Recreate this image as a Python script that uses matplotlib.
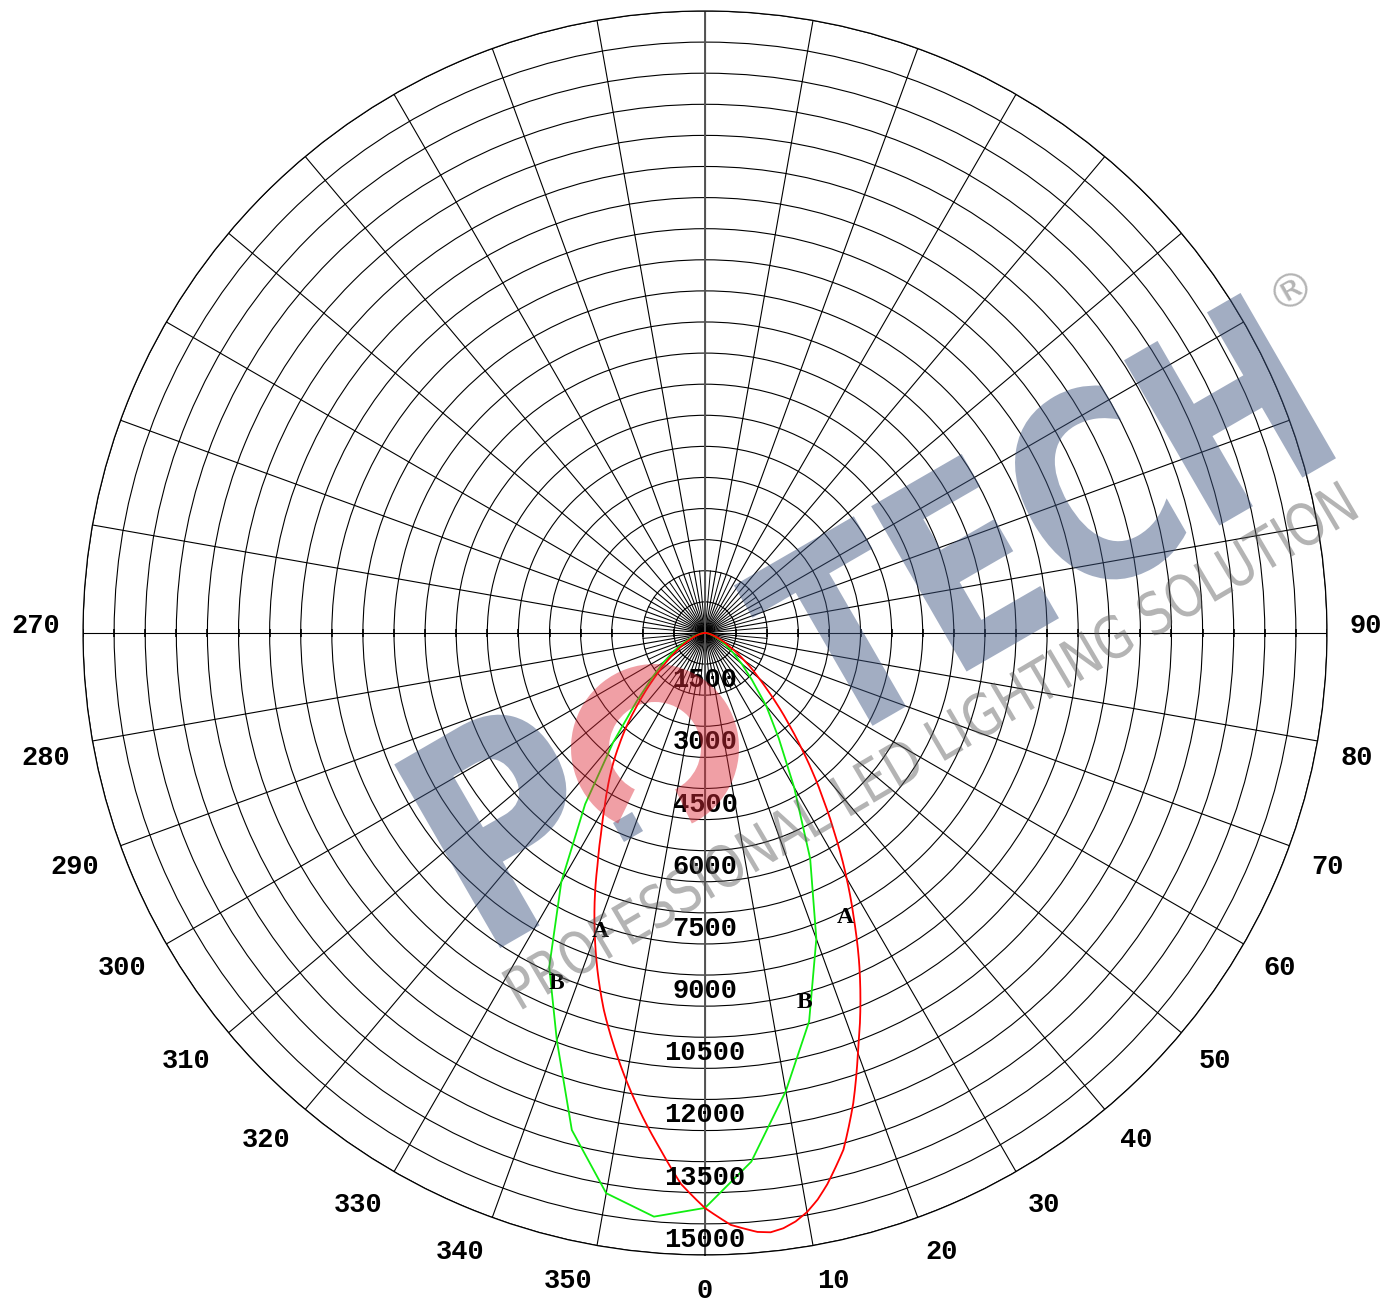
import numpy as np
import matplotlib
matplotlib.use("Agg")
import matplotlib.pyplot as plt
from matplotlib.font_manager import FontProperties
from matplotlib.textpath import TextPath
from matplotlib.patches import PathPatch, Wedge, Rectangle
from matplotlib.transforms import Affine2D, IdentityTransform

W, H, DPI = 1384, 1302, 100

# --- values ---
r_max = 15000
ring_step = 750
ring_labels = [1500, 3000, 4500, 6000, 7500, 9000, 10500, 12000, 13500, 15000]
angle_labels = [0, 10, 20, 30, 40, 50, 60, 70, 80, 90,
                270, 280, 290, 300, 310, 320, 330, 340, 350]

# curve A (red), gamma in degrees (negative = left of nadir)
ang_a = [-90, -85, -80, -75, -70, -65, -60, -55, -50, -47.5, -45, -42.5, -40,
         -37.5, -35, -32.5, -30, -27.5, -25, -22.5, -20, -17.5, -15, -12.5,
         -10, -7.5, -5, -2.5, 0, 2.5, 5, 6.25, 7.5, 8.75, 10, 11.25, 12.5, 15,
         17.5, 20, 22.5, 25, 27.5, 30, 32.5, 35, 37.5, 40, 42.5, 45, 47.5, 50,
         55, 60, 65, 70, 75, 80, 85, 90]
val_a = [0, 40, 100, 180, 290, 450, 680, 1000, 1450, 1750, 2100, 2500, 2950,
         3400, 3880, 4350, 4840, 5420, 6120, 6950, 7770, 8600, 9420, 10180,
         10950, 11720, 12480, 13300, 13870, 14290, 14500, 14540, 14480, 14360,
         14180, 13930, 13620, 12900, 11890, 10780, 9790, 8800, 7780, 6830, 5900,
         5050, 4300, 3600, 3000, 2500, 2050, 1700, 1150, 750, 480, 300, 180, 100,
         40, 0]

# curve B (green)
ang_b = [-90, -85, -80, -75, -70, -65, -60, -55, -50, -45, -40, -35, -30,
         -25, -20, -15, -10, -5, 0, 5, 10, 15, 20, 25, 30, 35, 40, 45, 50,
         55, 60, 65, 70, 75, 80, 85, 90]
val_b = [0, 50, 120, 220, 360, 560, 850, 1200, 1650, 2330, 3450, 5040, 6930,
         8890, 10450, 12410, 13720, 14130, 13866, 12800, 11220, 9700, 7850,
         6000, 4300, 3100, 2300, 1600, 1150, 820, 580, 400, 260, 160, 90, 40, 0]

# curve tags: (label, gamma, r)
tags = [("A", -19.4, 7640), ("A", 26.2, 7635), ("B", -23.0, 9195), ("B", 15.0, 9237)]

num_font = dict(family="Liberation Mono", fontweight="bold", fontsize=19.5)

fig = plt.figure(figsize=(W / DPI, H / DPI), dpi=DPI)
ax = fig.add_axes([0.0600, 0.0361, 0.8988, 0.9555], projection="polar")
ax.set_theta_zero_location("S")
ax.set_theta_direction(1)
ax.set_ylim(0, r_max)

rings = np.arange(ring_step, r_max + 1, ring_step)
ax.set_yticks(rings)
ax.set_xticks(np.deg2rad(np.arange(0, 360, 10)))
ax.set_xticklabels([])
ax.set_yticklabels([])
ax.grid(True, color="black", lw=0.8)
ax.spines["polar"].set_linewidth(0.9)

# extra spokes near the pole
for a in np.arange(5, 360, 10):
    ax.plot([np.deg2rad(a)] * 2, [0, 2 * ring_step], color="black", lw=0.7)

# axes through the pole
ax.plot([0, 0], [0, r_max], color="#555555", lw=1.4)
ax.plot([np.pi, np.pi], [0, r_max], color="#555555", lw=1.4)
ax.plot([np.pi / 2] * len(rings), rings, ls="none", marker="|", ms=6, mew=1.2, color="black")
ax.plot([-np.pi / 2] * len(rings), rings, ls="none", marker="|", ms=6, mew=1.2, color="black")

# curves
ax.plot(np.deg2rad(ang_b), val_b, color="#10ee10", lw=1.3)
ln_a, = ax.plot(np.deg2rad(ang_a), val_a, color="#ff0000", lw=1.3)
ln_a.get_path()._interpolation_steps = 12   # draw segments as polar arcs

for t, g, r in tags:
    ax.text(np.deg2rad(g), r, t, ha="center", va="center", family="Liberation Serif",
            fontweight="bold", fontsize=17)

# ring values along the nadir
for v in ring_labels:
    ax.annotate(str(v), xy=(0, v), xytext=(0, 5.8), textcoords="offset points",
                ha="center", va="baseline", **num_font)

# angle values around the rim
r_lab = r_max * 645 / 622
for a in angle_labels:
    if a == 0:
        ha, va = "center", "top"
    elif a == 90:
        ha, va = "left", "baseline"
    elif a == 270:
        ha, va = "right", "baseline"
    elif a < 90:
        ha, va = "left", "top"
    else:
        ha, va = "right", "top"
    ax.text(np.deg2rad(a), r_lab, str(a), ha=ha, va=va, clip_on=False, **num_font)


# --- watermark (pixel coords, y from top) ---
def stamp(text, cx, cy, w, h, ang, fp, color, alpha):
    tp = TextPath((0, 0), text, size=1, prop=fp)
    e = tp.get_extents()
    tr = (Affine2D().translate(-(e.x0 + e.x1) / 2, -(e.y0 + e.y1) / 2)
          .scale(w / e.width, h / e.height).rotate_deg(ang).translate(cx, H - cy))
    fig.add_artist(PathPatch(tp, transform=tr + IdentityTransform(), fc=color,
                             ec="none", alpha=alpha, zorder=10))


bold = FontProperties(family="DejaVu Sans", weight="bold")
plain = FontProperties(family="DejaVu Sans")
blue = (0.24, 0.33, 0.50)
stamp("P", 510, 820, 145, 212, 30, bold, blue, 0.48)
stamp("TECH", 1035, 522, 585, 198, 30, bold, blue, 0.48)
stamp("PROFESSIONAL LED LIGHTING SOLUTION", 930, 745, 970, 44, 30.5, plain,
      (0.35, 0.35, 0.35), 0.45)

fig.add_artist(Rectangle((624, H - 842), 22, 22, angle=30, transform=IdentityTransform(),
                         fc=blue, ec="none", alpha=0.48, zorder=10))
fig.add_artist(Wedge((655, H - 748), 84, -64, 244, width=38, transform=IdentityTransform(),
                     fc=(0.87, 0.17, 0.22), ec="none", alpha=0.45, zorder=10))
fig.text(1292 / W, 1 - 290 / H, "\u00ae", ha="center", va="center", fontsize=34,
         color=(0.35, 0.35, 0.35), alpha=0.45, rotation=30)

fig.savefig("out.png", dpi=DPI)
